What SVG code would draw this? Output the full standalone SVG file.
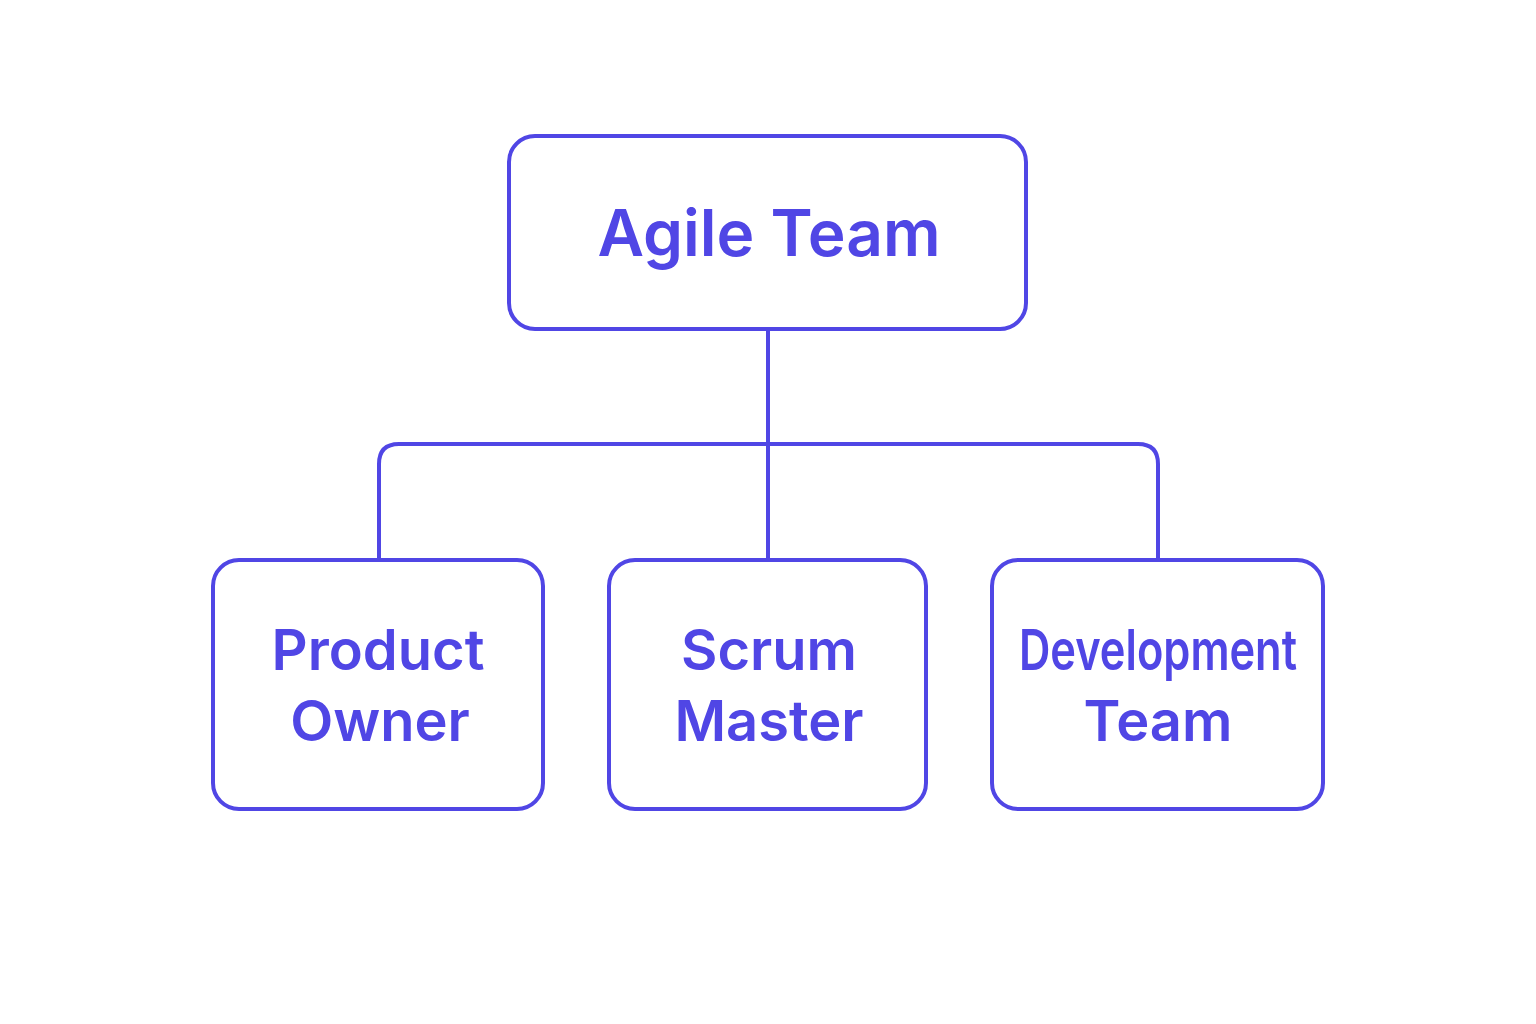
<svg xmlns="http://www.w3.org/2000/svg" width="1536" height="1024" viewBox="0 0 1536 1024">
<style>
.box{fill:#fff;stroke:#5046e5;stroke-width:4}
.c{fill:none;stroke:#5046e5;stroke-width:4}
text{font-family:Inter,"Liberation Sans",sans-serif;fill:#5046e5;font-weight:600;text-anchor:middle}
.t{font-size:56px}
.top{font-size:64px}
</style>
<rect width="1536" height="1024" fill="#fff"/>
<g id="connectors">
<path class="c" d="M768 330V558"/>
<path class="c" d="M379 558V464q0-20 20-20H1138q20 0 20 20V558"/>
</g>
<g id="agile"><rect class="box" x="509" y="136" width="517" height="193" rx="26"/><text class="top" x="769" y="256">Agile Team</text></g>
<g id="po"><rect class="box" x="213" y="560" width="330" height="249" rx="26"/><text class="t" x="378" y="670">Product</text><text class="t" x="380" y="741">Owner</text></g>
<g id="sm"><rect class="box" x="609" y="560" width="317" height="249" rx="26"/><text class="t" x="769" y="670">Scrum</text><text class="t" x="769" y="741">Master</text></g>
<g id="dt"><rect class="box" x="992" y="560" width="331" height="249" rx="26"/><text class="t" x="1158" y="670" textLength="278" lengthAdjust="spacingAndGlyphs">Development</text><text class="t" x="1158" y="741">Team</text></g>
</svg>
